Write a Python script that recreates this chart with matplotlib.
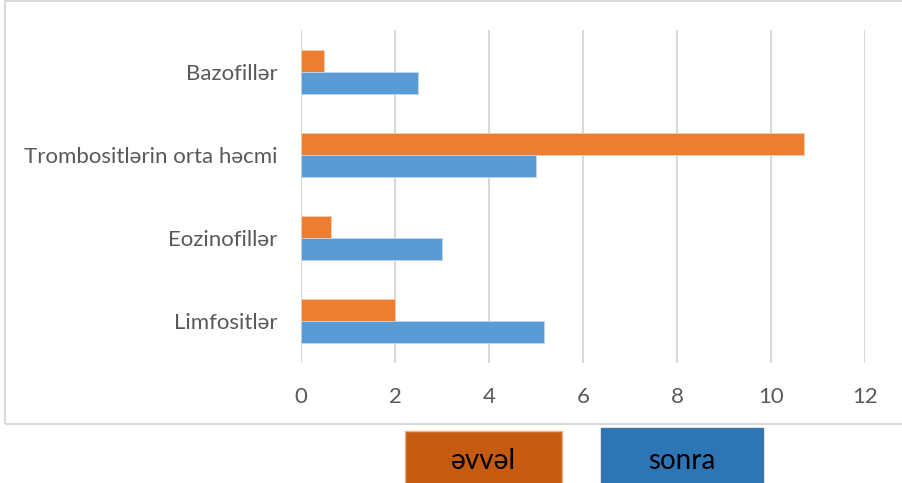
import matplotlib
matplotlib.use("Agg")
import matplotlib.pyplot as plt
from matplotlib.patches import Rectangle
import numpy as np

plt.rcParams['font.family'] = ['Lato', 'DejaVu Sans']

categories = ["Limfositlər", "Eozinofillər", "Trombositlərin orta həcmi", "Bazofillər"]
evvel = [2.0, 0.63, 10.7, 0.49]
sonra = [5.16, 2.99, 5.0, 2.49]
series_names = ["əvvəl", "sonra"]
bar_colors = ["#ED7D31", "#5B9BD5"]
legend_colors = ["#C55A11", "#2E75B6"]
xticks = [0, 2, 4, 6, 8, 10, 12]

fig = plt.figure(figsize=(9.03, 4.83), dpi=100)
W, H = 903, 483

# outer chart frame
fig.patches.append(Rectangle((5 / W, 1 - 424 / H), (905 - 5) / W, (424 - 1) / H,
                             transform=fig.transFigure, fill=False,
                             edgecolor="#D9D9D9", linewidth=1.5, zorder=0))

ax = fig.add_axes([301 / W, 1 - 363 / H, (865 - 301) / W, (363 - 30) / H])
y = np.arange(len(categories))
h = 0.264
ax.barh(y + h / 2, evvel, height=h, color=bar_colors[0], edgecolor="#F8CBAD", linewidth=0.6, zorder=3)
ax.barh(y - h / 2, sonra, height=h, color=bar_colors[1], edgecolor="#BDD7EE", linewidth=0.6, zorder=3)

ax.set_xlim(0, 12)
ax.set_ylim(-0.5, len(categories) - 0.5)
ax.set_xticks(xticks)
ax.set_xticklabels([str(t) for t in xticks])
ax.set_yticks(y)
ax.set_yticklabels(categories)
ax.xaxis.grid(True, color="#D9D9D9", linewidth=1.5, zorder=0)
ax.set_axisbelow(True)
for s in ax.spines.values():
    s.set_visible(False)
ax.tick_params(axis="x", length=0, pad=17, labelsize=16, labelcolor="#595959")
ax.tick_params(axis="y", length=0, pad=17, labelsize=16, labelcolor="#595959")

# legend boxes
boxes = [(405, 431, 562, 484), (601, 428, 763, 484)]
for name, col, (x0, y0, x1, y1) in zip(series_names, legend_colors, boxes):
    fig.patches.append(Rectangle((x0 / W, 1 - y1 / H), (x1 - x0) / W, (y1 - y0) / H,
                                 transform=fig.transFigure, facecolor=col,
                                 edgecolor="#F4B183" if col == legend_colors[0] else "#41719C",
                                 linewidth=1, zorder=1))
    fig.text((x0 + x1) / 2 / W, 1 - 461 / H, name, ha="center", va="center",
             fontsize=20, color="black", zorder=2)

fig.savefig("out.png", dpi=100)
